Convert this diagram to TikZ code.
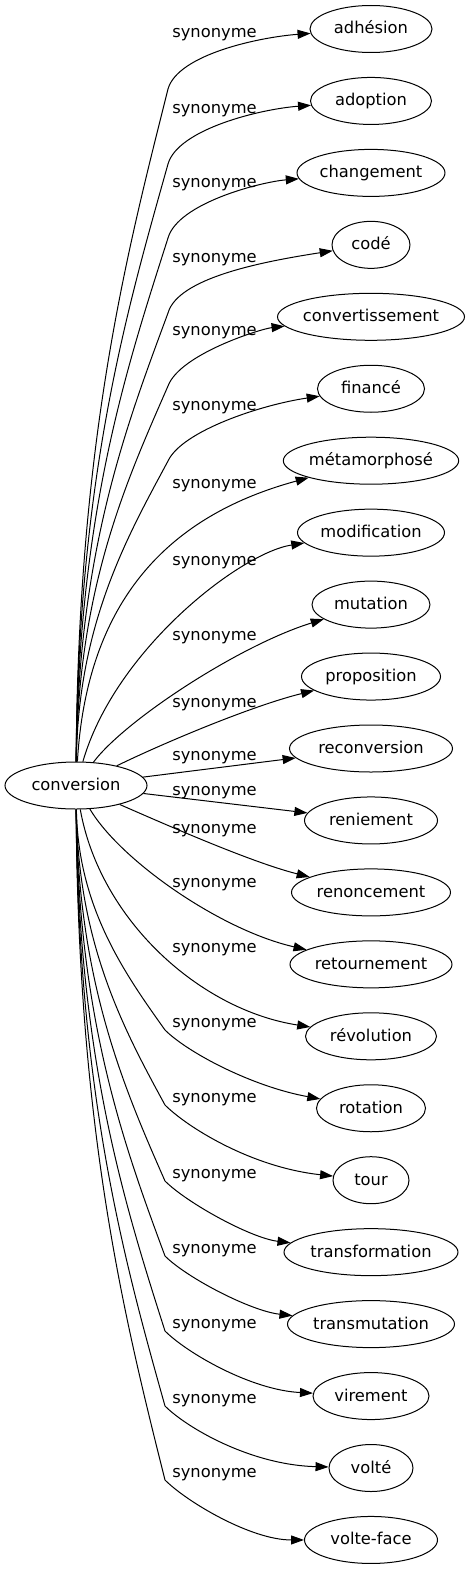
\documentclass[tikz,border=0pt]{standalone}
\usepackage{fontspec}
\setmainfont{DejaVu Sans}
\usetikzlibrary{arrows.meta,shapes.geometric,calc}
\begin{document}
\begin{tikzpicture}[x=1pt,y=-1pt,
  every node/.style={font=\fontsize{16.3}{19}\selectfont},
  tgt/.style={draw, ellipse, line width=1pt, minimum height=47pt, inner sep=0pt, text height=12pt, text depth=2pt},
  lab/.style={anchor=base, inner sep=0pt},
  edge/.style={line width=1pt, -{Triangle[length=13pt,width=9pt]}}]
\useasboundingbox (0,0) rectangle (475,1571);
% nodes
\node[tgt, minimum width=142pt] (conv) at (76,785.5) {conversion};
\node[tgt, minimum width=122pt] (t0) at (371,29) {adhésion};
\node[tgt, minimum width=121pt] (t1) at (371,100.95) {adoption};
\node[tgt, minimum width=148pt] (t2) at (371,172.9) {changement};
\node[tgt, minimum width=78pt] (t3) at (371,244.85) {codé};
\node[tgt, minimum width=187pt, inner xsep=-2pt] (t4) at (371,316.8) {convertissement};
\node[tgt, minimum width=107pt] (t5) at (371,388.75) {financé};
\node[tgt, minimum width=175pt] (t6) at (371,460.7) {métamorphosé};
\node[tgt, minimum width=147pt] (t7) at (371,532.65) {modification};
\node[tgt, minimum width=118pt] (t8) at (371,604.6) {mutation};
\node[tgt, minimum width=139pt] (t9) at (371,676.55) {proposition};
\node[tgt, minimum width=163pt] (t10) at (371,748.5) {reconversion};
\node[tgt, minimum width=133pt] (t11) at (371,820.45) {reniement};
\node[tgt, minimum width=159pt] (t12) at (371,892.4) {renoncement};
\node[tgt, minimum width=162pt] (t13) at (371,964.35) {retournement};
\node[tgt, minimum width=131pt] (t14) at (371,1036.3) {révolution};
\node[tgt, minimum width=109pt] (t15) at (371,1108.25) {rotation};
\node[tgt, minimum width=76pt] (t16) at (371,1180.2) {tour};
\node[tgt, minimum width=174pt] (t17) at (371,1252.15) {transformation};
\node[tgt, minimum width=167pt] (t18) at (371,1324.1) {transmutation};
\node[tgt, minimum width=116pt] (t19) at (371,1396.05) {virement};
\node[tgt, minimum width=84pt] (t20) at (371,1468) {volté};
\node[tgt, minimum width=133pt] (t21) at (371,1539.95) {volte-face};
% labels
\foreach \i/\ly in {0/33,1/108,2/182,3/257,4/330,5/405,6/483,7/560,8/635,9/702,10/755,11/790,12/828,13/882,14/947,15/1022,16/1097,17/1173,18/1248,19/1323,20/1398,21/1472}
  \node[lab] (l\i) at (214.5,\ly+5) {synonyme};
% bend points
\coordinate (k0) at (168,89);
\coordinate (k1) at (168,164);
\coordinate (k2) at (168,238);
\coordinate (k3) at (168,313);
\coordinate (k4) at (168,386);
\coordinate (k5) at (168,461);
\coordinate (k15) at (165,1030);
\coordinate (k16) at (165,1105);
\coordinate (k17) at (165,1181);
\coordinate (k18) at (165,1256);
\coordinate (k19) at (165,1331);
\coordinate (k20) at (165,1406);
\coordinate (k21) at (165,1480);
% top edges
\draw[edge] (conv) .. controls (78,437) and (128,249) .. (k0) .. controls ($(k0)+(10,-35)$) and ($(t0)+(-110,8)$) .. (t0);
\draw[edge] (conv) .. controls (78,474.5) and (128,306.8) .. (k1) .. controls ($(k1)+(10,-35)$) and ($(t1)+(-110,8)$) .. (t1);
\draw[edge] (conv) .. controls (78,511.5) and (128,363.8) .. (k2) .. controls ($(k2)+(10,-35)$) and ($(t2)+(-110,9)$) .. (t2);
\draw[edge] (conv) .. controls (78,549) and (128,421.6) .. (k3) .. controls ($(k3)+(10,-35)$) and ($(t3)+(-110,17)$) .. (t3);
\draw[edge] (conv) .. controls (78,585.5) and (128,477.8) .. (k4) .. controls ($(k4)+(12,-32)$) and ($(t4)+(-110,12)$) .. (t4);
\draw[edge] (conv) .. controls (78,623) and (128,535.5) .. (k5) .. controls ($(k5)+(14,-30)$) and ($(t5)+(-110,16)$) .. (t5);
\draw[edge] (conv) .. controls (88,580) and (190,510) .. (t6);
\draw[edge] (conv) .. controls (115,650) and (240,553) .. (t7);
\draw[edge] (conv) .. controls (125,720) and (240,645) .. (t8);
\draw[edge] (conv) .. controls (170,740) and (255,705) .. (t9);
\draw[edge] (conv) -- (t10);
\draw[edge] (conv) -- (t11);
\draw[edge] (conv) .. controls (160,822) and (250,862) .. (t12);
% bottom edges
\draw[edge] (conv) .. controls (120,860) and (220,930) .. (t13);
\draw[edge] (conv) .. controls (100,920) and (200,1010) .. (t14);
\draw[edge] (conv) .. controls (78,907.75) and (125,973.8) .. (k15) .. controls ($(k15)+(22,22)$) and ($(t15)+(-120,-22)$) .. (t15);
\draw[edge] (conv) .. controls (78,945.25) and (125,1031.5) .. (k16) .. controls ($(k16)+(22,22)$) and ($(t16)+(-120,-13)$) .. (t16);
\draw[edge] (conv) .. controls (78,983.25) and (125,1090) .. (k17) .. controls ($(k17)+(22,22)$) and ($(t17)+(-120,-14)$) .. (t17);
\draw[edge] (conv) .. controls (78,1020.75) and (125,1147.8) .. (k18) .. controls ($(k18)+(22,22)$) and ($(t18)+(-120,-13)$) .. (t18);
\draw[edge] (conv) .. controls (78,1058.25) and (125,1205.5) .. (k19) .. controls ($(k19)+(22,22)$) and ($(t19)+(-120,-6)$) .. (t19);
\draw[edge] (conv) .. controls (78,1095.75) and (125,1263.3) .. (k20) .. controls ($(k20)+(22,22)$) and ($(t20)+(-120,-3)$) .. (t20);
\draw[edge] (conv) .. controls (78,1132.75) and (125,1320.3) .. (k21) .. controls ($(k21)+(22,22)$) and ($(t21)+(-120,0)$) .. (t21);
\end{tikzpicture}
\end{document}
